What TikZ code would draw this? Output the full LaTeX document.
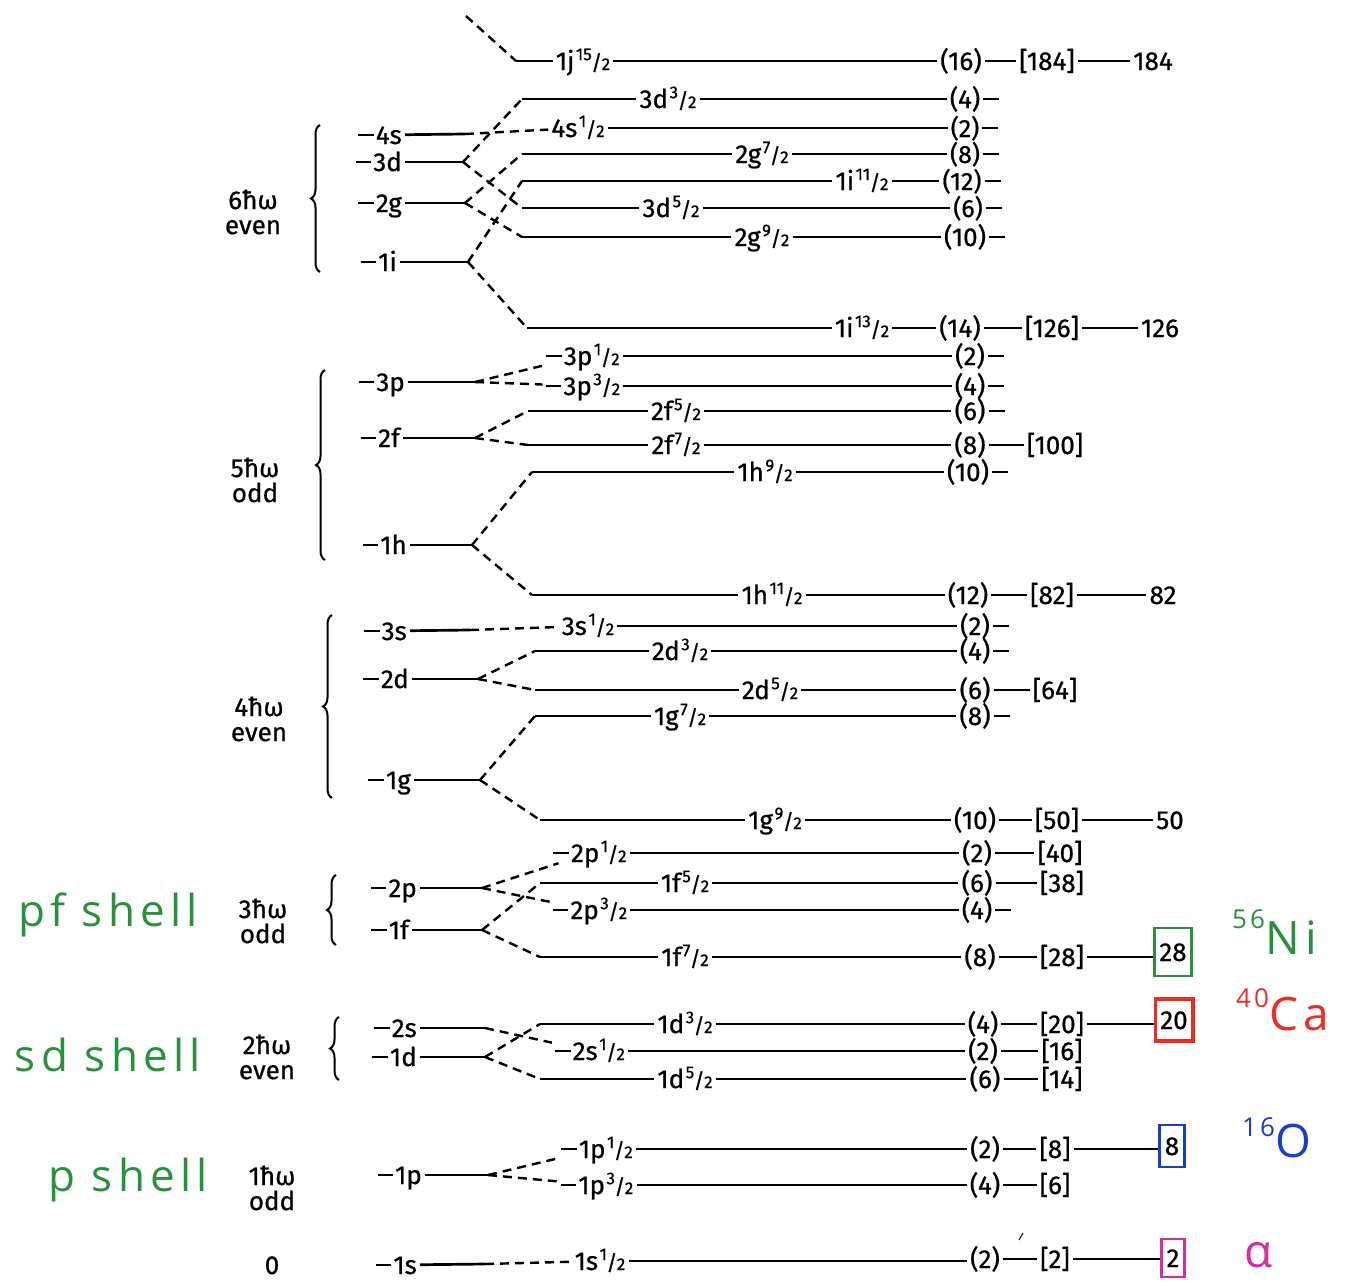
\documentclass[tikz,border=0pt]{standalone}
\usepackage{fontspec}
\setmainfont{Fira Sans}[FakeBold=0.7]
\newfontfamily\handfont{Open Sans}[LetterSpace=12]
\usetikzlibrary{decorations.pathreplacing}

\definecolor{hgreen}{RGB}{40,145,60}
\definecolor{hred}{RGB}{235,45,35}
\definecolor{hblue}{RGB}{25,60,210}
\definecolor{hmag}{RGB}{215,45,160}

% printed label font, fractional j superscript, leading dash
\newcommand\lab{\fontsize{26}{25}\selectfont}
\newcommand\cfont{\fontsize{25}{25}\selectfont}
\newcommand\sfr[2]{\kern1.5pt\raisebox{0.38em}{\fontsize{17}{17}\selectfont #1}\kern-0.5pt{\fontsize{21}{21}\selectfont /}\kern-0.5pt{\fontsize{17}{17}\selectfont #2}}
\newcommand\dsh{\rule[0.3em]{0.6em}{2.4pt}\kern2pt}

\tikzset{
  lv/.style={font=\lab, inner xsep=3pt, inner ysep=1pt, text height=18pt, text depth=0pt},
  nl/.style={lv, anchor=east},
  grp/.style={font=\lab, align=center, inner sep=0pt},
  lvl/.style={line width=2.7pt},
  split/.style={line width=2.4pt, dash pattern=on 9pt off 6pt},
  brc/.style={decorate, decoration={brace, amplitude=9pt}, line width=2pt},
  magic/.style={lv, draw, line width=2.8pt, inner xsep=5pt, minimum height=42pt, text=black},
  hand/.style={font=\handfont\fontsize{44}{44}\selectfont, inner sep=0pt},
  iso/.style={font=\handfont\fontsize{46}{46}\selectfont, inner sep=0pt}
}

\newcommand\tl[1]{\draw[lvl] (#1.east) -- +(16,0);}

\begin{document}
\begin{tikzpicture}[x=1pt,y=-1pt]
\fill[white] (0,0) rectangle (1347,1283);

% ================= 6 hbar omega (even) =================
\node[grp] (g6) at (253,212) {6ħω\\even};
\draw[brc] (320,272) -- (320,125);
\node[nl] (l4s) at (405,135) {\dsh 4s};
\node[nl] (l3d) at (405,162) {\dsh 3d};
\node[nl] (l2g) at (405,203) {\dsh 2g};
\node[nl] (l1i) at (400,262) {\dsh 1i};
\coordinate (s4s) at (465,134);
\coordinate (s3d) at (463,162);
\coordinate (s2g) at (465,203);
\coordinate (s1i) at (468,262);
\draw[lvl] (l4s) -- (s4s);
\draw[lvl] (l3d) -- (s3d);
\draw[lvl] (l2g) -- (s2g);
\draw[lvl] (l1i) -- (s1i);

% 1j 15/2 (from the next shell up)
\coordinate (t1j) at (466,16);
\coordinate (b1j) at (516,61);
\node[lv] (j1j) at (583,61) {1j\sfr{15}{2}};
\node[lv] (c1j) at (961,61) {(16)};
\node[lv] (m1j) at (1047,61) {[184]};
\node[lv] (n1j) at (1153,61) {184};
\draw[split] (t1j) -- (b1j);
\draw[lvl] (b1j) -- (j1j) -- (c1j) -- (m1j);
\draw[lvl] (m1j) -- (n1j);

% 3d 3/2
\coordinate (b3d3) at (522,99);
\node[lv] (j3d3) at (668,99) {3d\sfr32};
\node[lv] (c3d3) at (965,99) {(4)};
\draw[split] (s3d) -- (b3d3);
\draw[lvl] (b3d3) -- (j3d3) -- (c3d3); \tl{c3d3}

% 4s 1/2
\node[lv] (j4s) at (578,128) {4s\sfr12};
\node[lv, font=\cfont] (c4s) at (965,128) {(2)};
\draw[split] (s4s) -- (j4s);
\draw[lvl] (j4s) -- (c4s); \tl{c4s}

% 2g 7/2
\coordinate (b2g7) at (522,154);
\node[lv] (j2g7) at (762,154) {2g\sfr72};
\node[lv, font=\cfont] (c2g7) at (965,154) {(8)};
\draw[split] (s2g) -- (b2g7);
\draw[lvl] (b2g7) -- (j2g7) -- (c2g7); \tl{c2g7}

% 1i 11/2
\coordinate (b1i11) at (522,181);
\node[lv] (j1i11) at (862,181) {1i\sfr{11}2};
\node[lv, font=\cfont] (c1i11) at (962,181) {(12)};
\draw[split] (s1i) -- (b1i11);
\draw[lvl] (b1i11) -- (j1i11) -- (c1i11); \tl{c1i11}

% 3d 5/2
\coordinate (b3d5) at (522,208);
\node[lv] (j3d5) at (671,208) {3d\sfr52};
\node[lv, font=\cfont] (c3d5) at (968,208) {(6)};
\draw[split] (s3d) -- (b3d5);
\draw[lvl] (b3d5) -- (j3d5) -- (c3d5); \tl{c3d5}

% 2g 9/2
\coordinate (b2g9) at (522,237);
\node[lv] (j2g9) at (762,237) {2g\sfr92};
\node[lv] (c2g9) at (965,237) {(10)};
\draw[split] (s2g) -- (b2g9);
\draw[lvl] (b2g9) -- (j2g9) -- (c2g9); \tl{c2g9}

% 1i 13/2
\coordinate (b1i13) at (527,328);
\node[lv] (j1i13) at (862,328) {1i\sfr{13}2};
\node[lv] (c1i13) at (960,328) {(14)};
\node[lv] (m1i13) at (1052,328) {[126]};
\node[lv] (n1i13) at (1160,328) {126};
\draw[split] (s1i) -- (b1i13);
\draw[lvl] (b1i13) -- (j1i13) -- (c1i13) -- (m1i13);
\draw[lvl] (m1i13) -- (n1i13);

% ================= 5 hbar omega (odd) =================
\node[grp] (g5) at (255,480) {5ħω\\odd};
\draw[brc] (325,560) -- (325,370);
\node[nl] (l3p) at (408,382) {\dsh 3p};
\node[nl] (l2f) at (403,438) {\dsh 2f};
\node[nl] (l1h) at (410,545) {\dsh 1h};
\coordinate (s3p) at (475,382);
\coordinate (s2f) at (475,438);
\coordinate (s1h) at (472,545);
\draw[lvl] (l3p) -- (s3p);
\draw[lvl] (l2f) -- (s2f);
\draw[lvl] (l1h) -- (s1h);

\node[lv] (j3p1) at (583,356) {\dsh 3p\sfr12};
\node[lv] (c3p1) at (970,356) {(2)};
\draw[split] (s3p) -- (j3p1);
\draw[lvl] (j3p1) -- (c3p1); \tl{c3p1}

\node[lv] (j3p3) at (583,386) {\dsh 3p\sfr32};
\node[lv] (c3p3) at (970,386) {(4)};
\draw[split] (s3p) -- (j3p3);
\draw[lvl] (j3p3) -- (c3p3); \tl{c3p3}

\coordinate (b2f5) at (528,411);
\node[lv] (j2f5) at (676,411) {2f\sfr52};
\node[lv] (c2f5) at (970,411) {(6)};
\draw[split] (s2f) -- (b2f5);
\draw[lvl] (b2f5) -- (j2f5) -- (c2f5); \tl{c2f5}

\coordinate (b2f7) at (528,445);
\node[lv] (j2f7) at (676,445) {2f\sfr72};
\node[lv] (c2f7) at (970,445) {(8)};
\node[lv] (m2f7) at (1055,445) {[100]};
\draw[split] (s2f) -- (b2f7);
\draw[lvl] (b2f7) -- (j2f7) -- (c2f7) -- (m2f7);

\coordinate (b1h9) at (532,472);
\node[lv] (j1h9) at (765,472) {1h\sfr92};
\node[lv] (c1h9) at (968,472) {(10)};
\draw[split] (s1h) -- (b1h9);
\draw[lvl] (b1h9) -- (j1h9) -- (c1h9); \tl{c1h9}

\coordinate (b1h11) at (532,595);
\node[lv] (j1h11) at (772,595) {1h\sfr{11}2};
\node[lv] (c1h11) at (968,595) {(12)};
\node[lv] (m1h11) at (1052,595) {[82]};
\node[lv] (n1h11) at (1163,595) {82};
\draw[split] (s1h) -- (b1h11);
\draw[lvl] (b1h11) -- (j1h11) -- (c1h11) -- (m1h11);
\draw[lvl] (m1h11) -- (n1h11);

% ================= 4 hbar omega (even) =================
\node[grp] (g4) at (259,719) {4ħω\\even};
\draw[brc] (332,798) -- (332,615);
\node[nl] (l3s) at (410,631) {\dsh 3s};
\node[nl] (l2d) at (412,679) {\dsh 2d};
\node[nl] (l1g) at (414,780) {\dsh 1g};
\coordinate (s3s) at (470,630);
\coordinate (s2d) at (478,679);
\coordinate (s1g) at (480,780);
\draw[lvl] (l3s) -- (s3s);
\draw[lvl] (l2d) -- (s2d);
\draw[lvl] (l1g) -- (s1g);

\node[lv] (j3s) at (588,626) {3s\sfr12};
\node[lv] (c3s) at (975,626) {(2)};
\draw[split] (s3s) -- (j3s);
\draw[lvl] (j3s) -- (c3s); \tl{c3s}

\coordinate (b2d3) at (535,651);
\node[lv] (j2d3) at (680,651) {2d\sfr32};
\node[lv] (c2d3) at (975,651) {(4)};
\draw[split] (s2d) -- (b2d3);
\draw[lvl] (b2d3) -- (j2d3) -- (c2d3); \tl{c2d3}

\coordinate (b2d5) at (535,690);
\node[lv] (j2d5) at (770,690) {2d\sfr52};
\node[lv] (c2d5) at (975,690) {(6)};
\node[lv] (m2d5) at (1055,690) {[64]};
\draw[split] (s2d) -- (b2d5);
\draw[lvl] (b2d5) -- (j2d5) -- (c2d5) -- (m2d5);

\coordinate (b1g7) at (535,716);
\node[lv] (j1g7) at (680,716) {1g\sfr72};
\node[lv] (c1g7) at (975,716) {(8)};
\draw[split] (s1g) -- (b1g7);
\draw[lvl] (b1g7) -- (j1g7) -- (c1g7); \tl{c1g7}

\coordinate (b1g9) at (540,820);
\node[lv] (j1g9) at (775,820) {1g\sfr92};
\node[lv] (c1g9) at (975,820) {(10)};
\node[lv] (m1g9) at (1057,820) {[50]};
\node[lv] (n1g9) at (1170,820) {50};
\draw[split] (s1g) -- (b1g9);
\draw[lvl] (b1g9) -- (j1g9) -- (c1g9) -- (m1g9);
\draw[lvl] (m1g9) -- (n1g9);

% ================= 3 hbar omega (odd) =================
\node[grp] (g3) at (263,921) {3ħω\\odd};
\draw[brc] (336,945) -- (336,875);
\node[nl] (l2p) at (420,888) {\dsh 2p};
\node[nl] (l1f) at (412,930) {\dsh 1f};
\coordinate (s2p) at (482,888);
\coordinate (s1f) at (482,930);
\draw[lvl] (l2p) -- (s2p);
\draw[lvl] (l1f) -- (s1f);

\node[lv] (j2p1) at (590,853) {\dsh 2p\sfr12};
\node[lv] (c2p1) at (977,853) {(2)};
\node[lv] (m2p1) at (1060,853) {[40]};
\draw[split] (s2p) -- (j2p1);
\draw[lvl] (j2p1) -- (c2p1) -- (m2p1);

\coordinate (b1f5) at (540,883);
\node[lv] (j1f5) at (685,883) {1f\sfr52};
\node[lv] (c1f5) at (977,883) {(6)};
\node[lv] (m1f5) at (1062,883) {[38]};
\draw[split] (s1f) -- (b1f5);
\draw[lvl] (b1f5) -- (j1f5) -- (c1f5) -- (m1f5);

\node[lv] (j2p3) at (590,910) {\dsh 2p\sfr32};
\node[lv] (c2p3) at (977,910) {(4)};
\draw[split] (s2p) -- (j2p3);
\draw[lvl] (j2p3) -- (c2p3); \tl{c2p3}

\coordinate (b1f7) at (540,957);
\node[lv] (j1f7) at (685,957) {1f\sfr72};
\node[lv] (c1f7) at (980,957) {(8)};
\node[lv] (m1f7) at (1062,957) {[28]};
\node[magic, draw=hgreen, minimum height=48pt] (x28) at (1173,952) {28};
\draw[split] (s1f) -- (b1f7);
\draw[lvl] (b1f7) -- (j1f7) -- (c1f7) -- (m1f7);
\draw[lvl] (m1f7.east) -- (x28.west |- m1f7.east);

% ================= 2 hbar omega (even) =================
\node[grp] (g2) at (267,1057) {2ħω\\even};
\draw[brc] (339,1080) -- (339,1017);
\node[nl] (l2s) at (420,1028) {\dsh 2s};
\node[nl] (l1d) at (420,1057) {\dsh 1d};
\coordinate (s2s) at (485,1028);
\coordinate (s1d) at (485,1057);
\draw[lvl] (l2s) -- (s2s);
\draw[lvl] (l1d) -- (s1d);

\coordinate (b1d3) at (540,1024);
\node[lv] (j1d3) at (685,1024) {1d\sfr32};
\node[lv] (c1d3) at (983,1024) {(4)};
\node[lv] (m1d3) at (1062,1024) {[20]};
\node[magic, draw=hred, line width=3.6pt] (x20) at (1174,1020) {20};
\draw[split] (s1d) -- (b1d3);
\draw[lvl] (b1d3) -- (j1d3) -- (c1d3) -- (m1d3);
\draw[lvl] (m1d3.east) -- (x20.west |- m1d3.east);

\node[lv] (j2s) at (590,1051) {\dsh 2s\sfr12};
\node[lv] (c2s) at (983,1051) {(2)};
\node[lv] (m2s) at (1062,1051) {[16]};
\draw[split] (s2s) -- (j2s);
\draw[lvl] (j2s) -- (c2s) -- (m2s);

\coordinate (b1d5) at (540,1079);
\node[lv] (j1d5) at (685,1079) {1d\sfr52};
\node[lv] (c1d5) at (985,1079) {(6)};
\node[lv] (m1d5) at (1062,1079) {[14]};
\draw[split] (s1d) -- (b1d5);
\draw[lvl] (b1d5) -- (j1d5) -- (c1d5) -- (m1d5);

% ================= 1 hbar omega (odd) =================
\node[grp] (g1) at (272,1188) {1ħω\\odd};
\node[nl] (l1p) at (425,1175) {\dsh 1p};
\coordinate (s1p) at (488,1175);
\draw[lvl] (l1p) -- (s1p);

\node[lv] (j1p1) at (597,1149) {\dsh 1p\sfr12};
\node[lv] (c1p1) at (985,1149) {(2)};
\node[lv] (m1p1) at (1055,1149) {[8]};
\node[magic, draw=hblue] (x8) at (1172,1146) {8};
\draw[split] (s1p) -- (j1p1);
\draw[lvl] (j1p1) -- (c1p1) -- (m1p1);
\draw[lvl] (m1p1.east) -- (x8.west |- m1p1.east);

\node[lv] (j1p3) at (597,1185) {\dsh 1p\sfr32};
\node[lv] (c1p3) at (985,1185) {(4)};
\node[lv] (m1p3) at (1055,1185) {[6]};
\draw[split] (s1p) -- (j1p3);
\draw[lvl] (j1p3) -- (c1p3) -- (m1p3);

% ================= 0 hbar omega =================
\node[lv] (g0) at (272,1265) {0};
\node[nl] (l1s) at (420,1265) {\dsh 1s};
\coordinate (s1s) at (485,1264);
\draw[lvl] (l1s) -- (s1s);

\node[lv] (j1s) at (600,1261) {1s\sfr12};
\node[lv] (c1s) at (985,1259) {(2)};
\node[lv] (m1s) at (1055,1259) {[2]};
\node[magic, draw=hmag, minimum height=38pt] (x2) at (1173,1258) {2};
\draw[split] (s1s) -- (j1s);
\draw[lvl] (j1s) -- (c1s.west |- j1s);
\draw[lvl] (c1s) -- (m1s);
\draw[lvl] (m1s.east) -- (x2.west |- m1s.east);
\draw[line width=1pt] (1019,1240) -- (1023,1233);

% ================= handwritten notes =================
\node[hand, text=hgreen] (pf) at (108,915) {pf shell};
\node[hand, text=hgreen] (sd) at (108,1055) {sd shell};
\node[hand, text=hgreen] (ps) at (128,1180) {p shell};
\node[iso, text=hgreen, anchor=west] (ni) at (1232,932) {\raisebox{0.55em}{\fontsize{26}{26}\selectfont 56}Ni};
\node[iso, text=hred, anchor=west] (ca) at (1236,1010) {\raisebox{0.5em}{\fontsize{26}{26}\selectfont 40}Ca};
\node[iso, text=hblue, anchor=west] (ox) at (1242,1138) {\raisebox{0.45em}{\fontsize{26}{26}\selectfont 16}O};
\node[iso, text=hmag, anchor=west] (al) at (1244,1255) {α};
\end{tikzpicture}
\end{document}
